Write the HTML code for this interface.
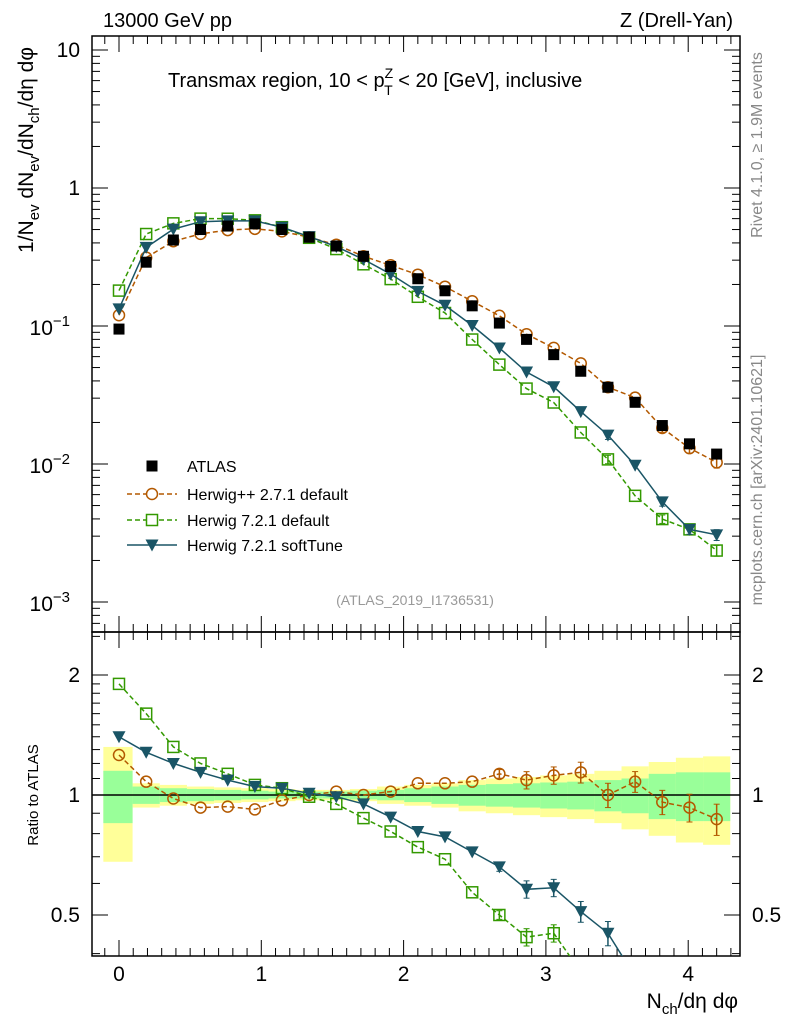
<!DOCTYPE html>
<html><head><meta charset="utf-8"><style>
html,body{margin:0;padding:0;background:#fff;overflow:hidden;width:786px;height:1024px}
svg{display:block;font-family:"Liberation Sans","DejaVu Sans",sans-serif}
</style></head><body>
<svg id="c" width="786" height="1024" viewBox="0 0 786 1024" xmlns="http://www.w3.org/2000/svg"></svg>
<script>
const xs = [0,0.191,0.382,0.573,0.764,0.955,1.145,1.336,1.527,1.718,1.909,2.1,2.291,2.482,2.673,2.864,3.055,3.245,3.436,3.627,3.818,4.009,4.2];
const atlas = [0.095,0.29,0.42,0.5,0.53,0.55,0.5,0.44,0.38,0.32,0.27,0.22,0.18,0.14,0.105,0.08,0.062,0.047,0.036,0.028,0.019,0.014,0.0118];
const ratioHpp = [1.26,1.08,0.98,0.93,0.935,0.92,0.97,1.0,1.02,1.0,1.02,1.07,1.07,1.08,1.13,1.09,1.12,1.14,1.0,1.08,0.96,0.93,0.87];
const ratioH7 = [1.9,1.6,1.32,1.2,1.13,1.06,1.04,0.99,0.95,0.875,0.81,0.74,0.69,0.57,0.5,0.44,0.45,0.36,0.30,0.21,0.21,0.24,0.20];
const ratioSoft = [1.4,1.28,1.2,1.14,1.09,1.05,1.04,1.01,0.99,0.95,0.88,0.81,0.785,0.72,0.66,0.58,0.585,0.51,0.45,0.35,0.28,0.24,0.26];
const errModel = [0.01,0.01,0.01,0.01,0.01,0.01,0.01,0.01,0.01,0.01,0.01,0.01,0.015,0.02,0.025,0.05,0.05,0.06,0.07,0.06,0.07,0.08,0.09];
const bandTot = [0.32,0.07,0.06,0.05,0.045,0.04,0.035,0.03,0.03,0.035,0.05,0.06,0.07,0.09,0.10,0.11,0.12,0.13,0.15,0.18,0.21,0.24,0.25];
const bandStat = [0.15,0.05,0.04,0.035,0.03,0.025,0.02,0.02,0.02,0.025,0.03,0.04,0.05,0.06,0.065,0.07,0.075,0.08,0.09,0.10,0.13,0.14,0.14];
const mainTicks = ["10","1"];

const svg = document.getElementById('c');
const NS = 'http://www.w3.org/2000/svg';
function mk(tag, attrs, parent){const e=document.createElementNS(NS,tag);for(const k in attrs)e.setAttribute(k,attrs[k]);(parent||svg).appendChild(e);return e;}
const L=92,R=740,MT=36,MB=632,RT=632,RB=956;
const X = v => 119 + v*142.3;
const YM = v => 188 - Math.log10(v)*138;
const YR = v => 795 - Math.log10(v)*398.6;
const half = 0.0955;

const cpm=mk('clipPath',{id:'cm'}); mk('rect',{x:L,y:MT,width:R-L,height:MB-MT},cpm);
const cpr=mk('clipPath',{id:'cr'}); mk('rect',{x:L,y:RT,width:R-L,height:RB-RT},cpr);

const gb=mk('g',{'clip-path':'url(#cr)'});

xs.forEach((x,i)=>{
  const x0 = i===0? -0.11 : x-half, x1 = x+half;
  const r1=mk('rect',{x:X(x0),y:YR(1+bandTot[i]),width:X(x1)-X(x0),height:YR(1-bandTot[i])-YR(1+bandTot[i]),fill:'#ffff99'},gb);
  
  
});
xs.forEach((x,i)=>{
  const x0 = i===0? -0.11 : x-half, x1 = x+half;
  const r2=mk('rect',{x:X(x0),y:YR(1+bandStat[i]),width:X(x1)-X(x0),height:YR(1-bandStat[i])-YR(1+bandStat[i]),fill:'#99ff99'},gb);
  
  
});
mk('line',{x1:L,x2:R,y1:YR(1),y2:YR(1),stroke:'#000','stroke-width':1.5});

mk('rect',{x:L,y:MT,width:R-L,height:MB-MT,fill:'none',stroke:'#000','stroke-width':1.5});
mk('rect',{x:L,y:RT,width:R-L,height:RB-RT,fill:'none',stroke:'#000','stroke-width':1.5});

for(let v=-0.1; v<=4.35; v+=0.1){
  const vv=Math.round(v*10)/10, major=Math.abs(vv-Math.round(vv))<1e-6, len=major?16:8, px=X(vv);
  if(px<L||px>R) continue;
  [[MB,-1],[MT,1],[RB,-1],[RT,1]].forEach(([y,d])=>mk('line',{x1:px,x2:px,y1:y,y2:y+d*len,stroke:'#000','stroke-width':1}));
}
[0,1,2,3,4].forEach(v=>{const t=mk('text',{x:X(v),y:981,'font-size':21,'text-anchor':'middle'});t.textContent=v;});

for(let d=-4; d<=1; d++){
  for(let m=1;m<10;m++){
    const v=m*Math.pow(10,d), py=YM(v); if(py<MT||py>MB) continue;
    const len=m===1?16:8;
    mk('line',{x1:L,x2:L+len,y1:py,y2:py,stroke:'#000'});
    mk('line',{x1:R,x2:R-len,y1:py,y2:py,stroke:'#000'});
  }
}
function ylab(txt,y,sup,x){const t=mk('text',{x:x||80,y:y+7,'font-size':21,'text-anchor':'end'});t.textContent=txt;if(sup){const s=mk('tspan',{dy:-9,'font-size':15},t);s.textContent=sup;}}
ylab(mainTicks[0],YM(10));ylab(mainTicks[1],YM(1));
ylab('10',YM(0.1)+2,'−1',70);ylab('10',YM(0.01)+2,'−2',70);ylab('10',YM(0.001)+2,'−3',70);

[0.4,0.5,0.6,0.7,0.8,0.9,1,1.1,1.2,1.3,1.4,1.5,1.6,1.7,1.8,1.9,2,2.5].forEach(v=>{
  const py=YR(v); if(py<RT||py>RB) return; const len=(v===0.5||v===1||v===2)?16:8;
  mk('line',{x1:L,x2:L+len,y1:py,y2:py,stroke:'#000'});mk('line',{x1:R,x2:R-len,y1:py,y2:py,stroke:'#000'});
});
[[2,'2'],[1,'1'],[0.5,'0.5']].forEach(([v,s])=>{
  let t=mk('text',{x:80,y:YR(v)+7,'font-size':21,'text-anchor':'end'});t.textContent=s;
  t=mk('text',{x:752,y:YR(v)+7,'font-size':21});t.textContent=s;
});

function series(vals, yf, clip, color, dash, marker, name, errs){
  const g=mk('g',{'clip-path':clip});
  
  
  let d='';
  vals.forEach((v,i)=>{d+=(i?'L':'M')+X(xs[i]).toFixed(1)+','+yf(v).toFixed(1);});
  mk('path',{d:d,fill:'none',stroke:color,'stroke-width':1.5,'stroke-dasharray':dash||'none'},g);
  vals.forEach((v,i)=>{
    const px=X(xs[i]),py=yf(v);
    if(errs){const e=errs[i]; const y1=yf(v*(1+e)),y2=yf(v*(1-e)); if(y2-y1>8){mk('line',{x1:px,x2:px,y1:y1,y2:y2,stroke:color,'stroke-width':1.5},g);mk('line',{x1:px-3,x2:px+3,y1:y1,y2:y1,stroke:color},g);mk('line',{x1:px-3,x2:px+3,y1:y2,y2:y2,stroke:color},g);}}
    let m;
    if(marker==='circle') m=mk('circle',{cx:px,cy:py,r:5.5,fill:'none',stroke:color,'stroke-width':1.5},g);
    else if(marker==='square') m=mk('rect',{x:px-5.5,y:py-5.5,width:11,height:11,fill:'none',stroke:color,'stroke-width':1.5},g);
    else m=mk('path',{d:`M${px-6.5},${py-5.5}L${px+6.5},${py-5.5}L${px},${py+6.5}Z`,fill:color},g);
    
    
  });
}
const hpp=atlas.map((a,i)=>a*ratioHpp[i]), h7=atlas.map((a,i)=>a*ratioH7[i]), soft=atlas.map((a,i)=>a*ratioSoft[i]);
series(hpp,YM,'url(#cm)','#b35900','5,3','circle','herwigpp-main',errModel);
series(h7,YM,'url(#cm)','#339900','5,3','square','herwig7-default-main',errModel);
series(soft,YM,'url(#cm)','#1a5566',null,'tri','herwig7-softtune-main',errModel);
atlas.forEach((a,i)=>{const r=mk('rect',{x:X(xs[i])-5.5,y:YM(a)-5.5,width:11,height:11,fill:'#000'});});
series(ratioHpp,YR,'url(#cr)','#b35900','5,3','circle','herwigpp-ratio',errModel);
series(ratioH7,YR,'url(#cr)','#339900','5,3','square','herwig7-default-ratio',errModel);
series(ratioSoft,YR,'url(#cr)','#1a5566',null,'tri','herwig7-softtune-ratio',errModel);

const lg=mk('g',{});
mk('rect',{x:146.5,y:460.5,width:11,height:11,fill:'#000'},lg);
mk('line',{x1:127,x2:177,y1:494,y2:494,stroke:'#b35900','stroke-width':1.5,'stroke-dasharray':'5,3'},lg);mk('circle',{cx:152,cy:494,r:5.5,fill:'#fff',stroke:'#b35900','stroke-width':1.5},lg);
mk('line',{x1:127,x2:177,y1:520,y2:520,stroke:'#339900','stroke-width':1.5,'stroke-dasharray':'5,3'},lg);mk('rect',{x:146.5,y:514.5,width:11,height:11,fill:'#fff',stroke:'#339900','stroke-width':1.5},lg);
mk('line',{x1:127,x2:177,y1:545,y2:545,stroke:'#1a5566','stroke-width':1.5},lg);mk('path',{d:'M145.5,539.5L158.5,539.5L152,551.5Z',fill:'#1a5566'},lg);
[['ATLAS',472],['Herwig++ 2.7.1 default',500],['Herwig 7.2.1 default',526],['Herwig 7.2.1 softTune',551]].forEach(([s,y])=>{const t=mk('text',{x:187,y:y,'font-size':16},lg);t.textContent=s;});

function txt(s,a,name){const t=mk('text',a);t.textContent=s;return t;}
txt('13000 GeV pp',{x:103,y:27,'font-size':20},'energy-label');
txt('Z (Drell-Yan)',{x:733,y:27,'font-size':20,'text-anchor':'end'},'process-label');
const tt=txt('Transmax region, 10 < p',{x:168,y:87,'font-size':20},'plot-title');
const s1=mk('tspan',{dy:-9,'font-size':14},tt);s1.textContent='Z';
const s2=mk('tspan',{dx:-9,dy:17,'font-size':14},tt);s2.textContent='T';
const s3=mk('tspan',{dy:-8},tt);s3.textContent=' < 20 [GeV], inclusive';
txt('(ATLAS_2019_I1736531)',{x:415,y:605,'font-size':14,fill:'#999','text-anchor':'middle'},'analysis-id');
txt('Rivet 4.1.0, ≥ 1.9M events',{x:0,y:0,'font-size':16,fill:'#888','text-anchor':'middle',transform:'translate(762,145) rotate(-90)'},'rivet-label');
txt('mcplots.cern.ch [arXiv:2401.10621]',{x:0,y:0,'font-size':16,fill:'#888','text-anchor':'middle',transform:'translate(762,480) rotate(-90)'},'mcplots-label');
const yl=txt('1/N',{x:0,y:0,'font-size':21,'text-anchor':'middle',transform:'translate(33,150) rotate(-90)'},'y-axis-title');
[['ev',1],[' dN',0],['ev',1],['/dN',0],['ch',1],['/dη dφ',0]].forEach(([s,sub])=>{const sp=mk('tspan',{'font-size':sub?15:21},yl);sp.textContent=s;sp.setAttribute('dy',sub?6:-6);});
txt('Ratio to ATLAS',{x:0,y:0,'font-size':15,'text-anchor':'middle',transform:'translate(38,795) rotate(-90)'},'ratio-axis-title');
const xl=txt('N',{x:738,y:1008,'font-size':21,'text-anchor':'end'},'x-axis-title');
const xa=mk('tspan',{dy:6,'font-size':15},xl);xa.textContent='ch';
const xb=mk('tspan',{dy:-6},xl);xb.textContent='/dη dφ';
</script>
</body></html>
